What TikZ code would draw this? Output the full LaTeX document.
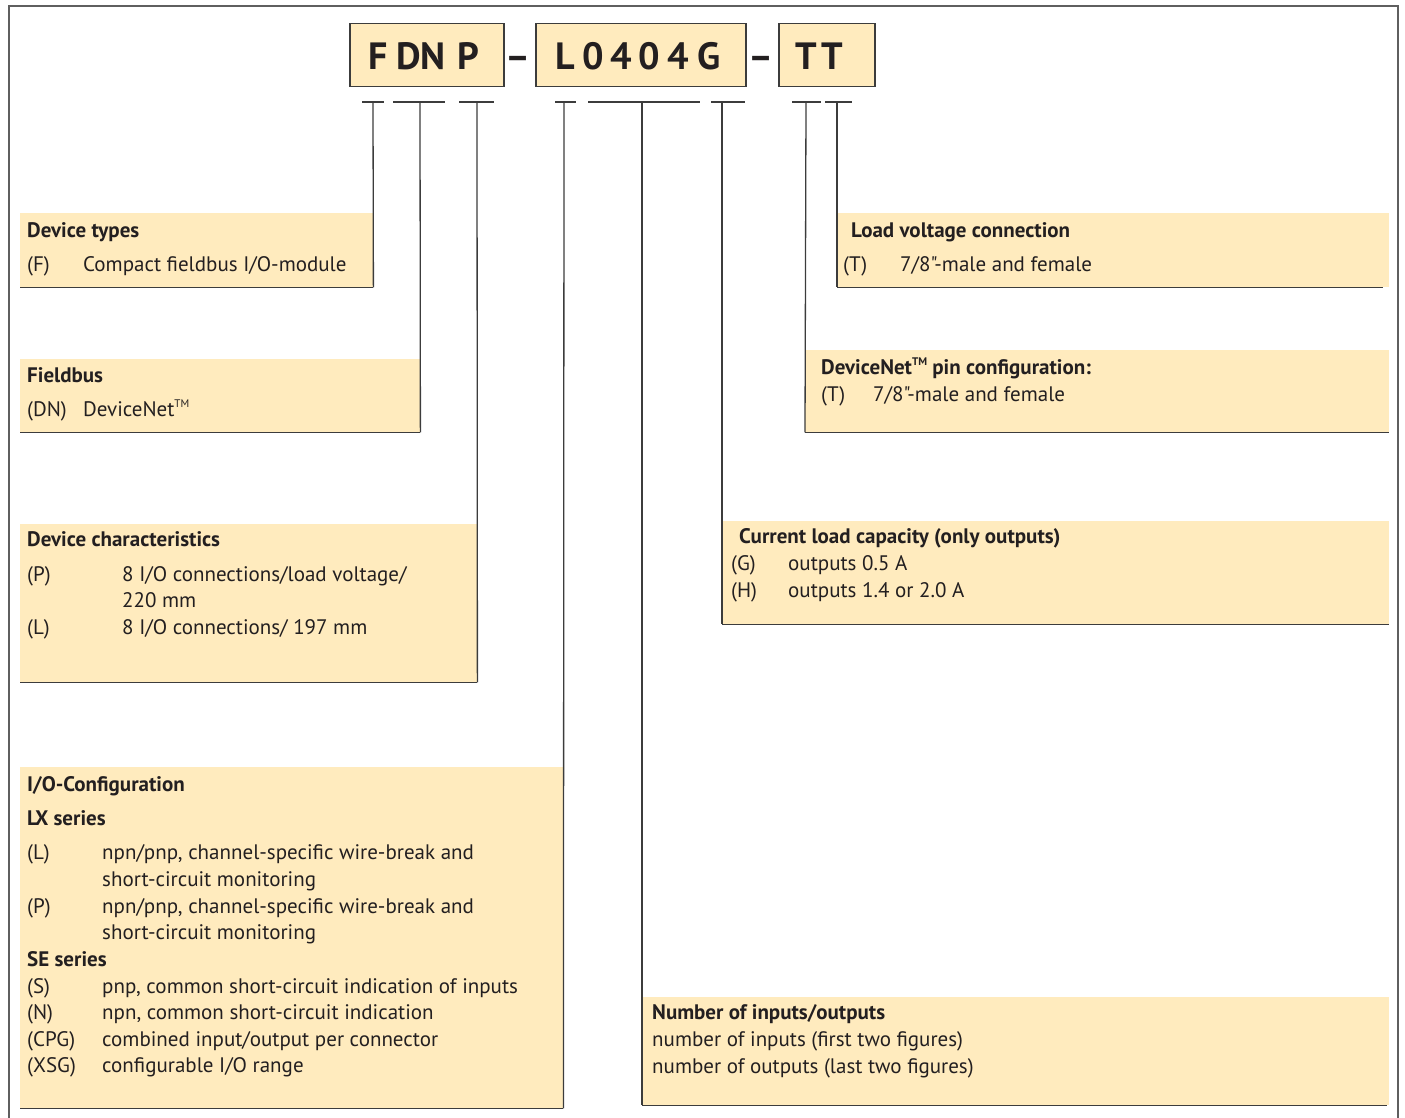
\documentclass[tikz,border=0pt]{standalone}
\usepackage{fontspec}
\setmainfont{PT Sans}[Ligatures=TeXOff]
\usetikzlibrary{positioning}

\definecolor{panelfill}{RGB}{255,235,190}
\definecolor{leadgray}{RGB}{60,60,60}
\definecolor{framegray}{RGB}{95,95,95}
\definecolor{inktext}{RGB}{35,31,32}

\newcommand{\tmsign}{\raisebox{0.42em}{\fontsize{11}{11}\selectfont TM}}

\begin{document}
\begin{tikzpicture}[
    x=1pt, y=-1pt,
    codebox/.style={rectangle, draw=leadgray, line width=1.5pt, fill=panelfill,
                    inner sep=0pt, anchor=north west},
    codechar/.style={anchor=base, inner sep=0pt, text=inktext,
                     font=\fontsize{38}{38}\selectfont\bfseries},
    panel/.style={rectangle, fill=panelfill, inner sep=0pt, anchor=north west},
    head/.style={anchor=base west, inner sep=0pt, text=inktext,
                 font=\fontsize{21}{21}\selectfont\bfseries},
    item/.style={anchor=base west, inner sep=0pt, text=inktext,
                 font=\fontsize{21}{21}\selectfont},
    lead/.style={draw=leadgray, line width=1.3pt},
    bottom/.style={draw=leadgray, line width=1.8pt}
]
    \useasboundingbox (0,0) rectangle (1405,1118);

    % outer frame, open at the bottom
    \draw[framegray, line width=2pt] (9,1118) -- (9,6) -- (1398,6) -- (1398,1118);

    % type code boxes
    \node[codebox, minimum width=154pt, minimum height=63pt] (fdnp) at (349,23) {};
    \node[codebox, minimum width=210pt, minimum height=63pt] (l0404g) at (535,23) {};
    \node[codebox, minimum width=96pt, minimum height=63pt] (tt) at (778,23) {};

    \foreach \cx/\ch [count=\i] in {378/F, 409/D, 433/N, 468/P,
                                    565/L, 593/0, 621/4, 649/0, 678/4, 709/G,
                                    806/T, 832/T}
        \node[codechar] (ch\i) at (\cx,70) {\ch};
    \node[codechar] (dash1) at (518.5,70) {–};
    \node[codechar] (dash2) at (761,70) {–};

    % T-bars under the code
    \foreach \nm/\xl/\xr/\xv in {ta/362/384/373, tb/393/445/420, tc/459/494/477,
                                 td/555/576/564, te/588/700/642, tf/711/745/722,
                                 tg/792/821/806, th/825/852/837} {
        \coordinate (\nm) at (\xv,102);
        \draw[lead] (\xl,102) -- (\xr,102);
    }

    % panels
    \node[panel, minimum width=353pt, minimum height=74pt]  (devtype)  at (20,213) {};
    \node[panel, minimum width=400pt, minimum height=73pt]  (fieldbus) at (20,359) {};
    \node[panel, minimum width=457pt, minimum height=158pt] (devchar)  at (20,524) {};
    \node[panel, minimum width=543pt, minimum height=341pt] (ioconf)   at (20,767) {};
    \node[panel, minimum width=552pt, minimum height=74pt]  (loadvolt) at (837,213) {};
    \node[panel, minimum width=584pt, minimum height=82pt]  (pinconf)  at (805,350) {};
    \node[panel, minimum width=667pt, minimum height=103pt] (curload)  at (722,521) {};
    \node[panel, minimum width=747pt, minimum height=108pt] (numio)    at (642,997) {};

    % leader lines
    \draw[lead] (ta) -- (devtype.south east);
    \draw[lead] (tb) -- (fieldbus.south east);
    \draw[lead] (tc) -- (devchar.south east);
    \draw[lead] (td) -- (ioconf.south east);
    \draw[lead] (te) -- (numio.south west);
    \draw[lead] (tf) -- (curload.south west);
    \draw[lead] (tg) -- (pinconf.south west);
    \draw[lead] (th) -- (loadvolt.south west);
    \draw[bottom] (devtype.south east) -- (devtype.south west);
    \draw[bottom] (fieldbus.south east) -- (fieldbus.south west);
    \draw[bottom] (devchar.south east) -- (devchar.south west);
    \draw[bottom] (ioconf.south east) -- (ioconf.south west);
    \draw[bottom] (numio.south west) -- ([xshift=-2pt]numio.south east);
    \draw[bottom] (curload.south west) -- (curload.south east);
    \draw[bottom] (pinconf.south west) -- (pinconf.south east);
    \draw[bottom] (loadvolt.south west) -- ([xshift=-6pt]loadvolt.south east);

    % Device types
    \node[head] (dt-h) at (27,237) {Device types};
    \node[item] (dt-k) at (27,271) {(F)};
    \node[item] (dt-t) at (83,271) {Compact fieldbus I/O-module};

    % Fieldbus
    \node[head] (fb-h) at (27,382) {Fieldbus};
    \node[item] (fb-k) at (27,416) {(DN)};
    \node[item] (fb-t) at (83,416) {DeviceNet\tmsign};

    % Device characteristics
    \node[head] (dc-h) at (27,546) {Device characteristics};
    \node[item] (dc-k1) at (27,581) {(P)};
    \node[item] (dc-t1) at (122,581) {8 I/O connections/load voltage/};
    \node[item] (dc-t1b) at (122,607) {220 mm};
    \node[item] (dc-k2) at (27,634) {(L)};
    \node[item] (dc-t2) at (122,634) {8 I/O connections/ 197 mm};

    % I/O-Configuration
    \node[head] (io-h) at (27,791) {I/O-Configuration};
    \node[head] (io-lx) at (27,825) {LX series};
    \node[item] (io-k1) at (27,859) {(L)};
    \node[item] (io-t1) at (102,859) {npn/pnp, channel-specific wire-break and};
    \node[item] (io-t1b) at (102,886) {short-circuit monitoring};
    \node[item] (io-k2) at (27,913) {(P)};
    \node[item] (io-t2) at (102,913) {npn/pnp, channel-specific wire-break and};
    \node[item] (io-t2b) at (102,939) {short-circuit monitoring};
    \node[head] (io-se) at (27,966) {SE series};
    \node[item] (io-k3) at (27,993) {(S)};
    \node[item] (io-t3) at (102,993) {pnp, common short-circuit indication of inputs};
    \node[item] (io-k4) at (27,1019) {(N)};
    \node[item] (io-t4) at (102,1019) {npn, common short-circuit indication};
    \node[item] (io-k5) at (27,1046) {(CPG)};
    \node[item] (io-t5) at (102,1046) {combined input/output per connector};
    \node[item] (io-k6) at (27,1072) {(XSG)};
    \node[item] (io-t6) at (102,1072) {configurable I/O range};

    % Load voltage connection
    \node[head] (lv-h) at (851,237) {Load voltage connection};
    \node[item] (lv-k) at (843,271) {(T)};
    \node[item] (lv-t) at (900,271) {7/8"-male and female};

    % DeviceNet pin configuration
    \node[head] (pc-h) at (821,374) {DeviceNet\tmsign{} pin configuration:};
    \node[item] (pc-k) at (821,401) {(T)};
    \node[item] (pc-t) at (873,401) {7/8"-male and female};

    % Current load capacity
    \node[head] (cl-h) at (739,543) {Current load capacity (only outputs)};
    \node[item] (cl-k1) at (731,570) {(G)};
    \node[item] (cl-t1) at (788,570) {outputs 0.5 A};
    \node[item] (cl-k2) at (731,597) {(H)};
    \node[item] (cl-t2) at (788,597) {outputs 1.4 or 2.0 A};

    % Number of inputs/outputs
    \node[head] (ni-h) at (652,1019) {Number of inputs/outputs};
    \node[item] (ni-t1) at (652,1046) {number of inputs (first two figures)};
    \node[item] (ni-t2) at (652,1073) {number of outputs (last two figures)};
\end{tikzpicture}
\end{document}
